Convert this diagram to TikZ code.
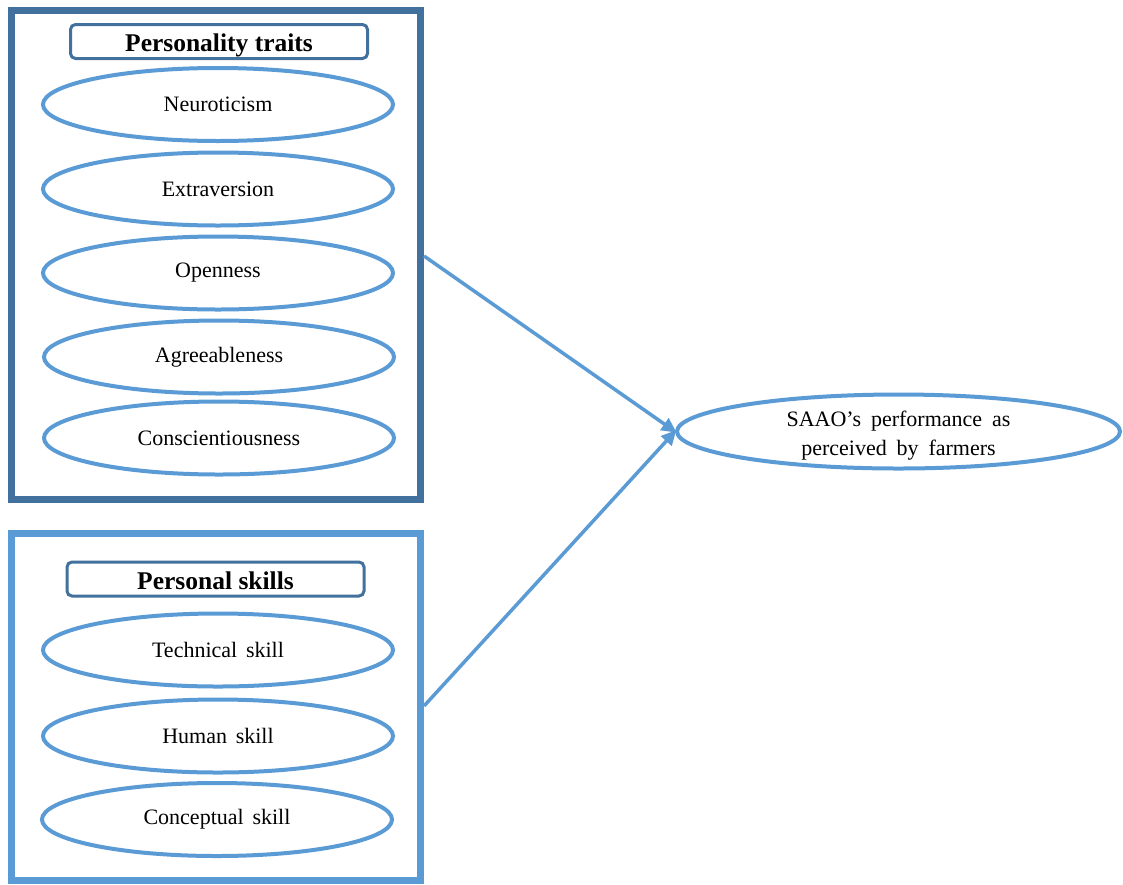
\documentclass[tikz,border=0pt]{standalone}
\usepackage{fontspec}
\setmainfont{Liberation Serif}
\usetikzlibrary{arrows.meta,shapes.geometric}
\definecolor{darkblue}{HTML}{41719C}
\definecolor{lightblue}{HTML}{5B9BD5}
\tikzset{
  outerbox/.style={line width=7pt},
  titlebox/.style={draw=darkblue, line width=3pt, rounded corners=5pt, minimum width=297pt, minimum height=34pt, inner sep=0pt, text height=21pt, text depth=1pt, font=\fontsize{25.5}{28}\selectfont\bfseries},
  oval/.style={ellipse, draw=lightblue, line width=4pt, minimum width=350pt, minimum height=73pt, inner sep=0pt, font=\fontsize{22}{25}\selectfont},
  conn/.style={draw=lightblue, line width=3.5pt, -{Triangle[length=15pt,width=14pt]}, shorten >=-2pt}
}
\begin{document}
\begin{tikzpicture}[x=1pt,y=-1pt]
\useasboundingbox (0,0) rectangle (1123,884);
\fill[white] (0,0) rectangle (1123,884);
% outer boxes
\draw[outerbox, draw=darkblue] (11.5,10.5) rectangle (420.5,499);
\draw[outerbox, draw=lightblue] (11.5,533) rectangle (420.5,880);
% titles
\node[titlebox] (pt) at (219,41.5) {Personality traits};
\node[titlebox] (ps) at (215.5,579) {Personal skills};
% ellipses
\node[oval] (neu) at (218,104.5) {Neuroticism};
\node[oval] (ext) at (218,189) {Extraversion};
\node[oval] (ope) at (218,273) {Openness};
\node[oval] (agr) at (219,357) {Agreeableness};
\node[oval] (con) at (219,438) {Conscientiousness};
\node[oval] (tec) at (218,650) {Technical\hspace{0.4em}skill};
\node[oval] (hum) at (218,736) {Human\hspace{0.4em}skill};
\node[oval] (cpt) at (217,819.5) {Conceptual\hspace{0.4em}skill};
% outcome
\node[ellipse, draw=lightblue, line width=4pt, minimum width=443pt, minimum height=74pt, inner sep=0pt,
  label={[align=center, font=\fontsize{22}{29}\selectfont, yshift=-4pt]center:SAAO’s\hspace{0.45em}performance\hspace{0.45em}as\\perceived\hspace{0.45em}by\hspace{0.45em}farmers}] (saao) at (898.5,431.5) {};
% connectors
\coordinate (a1) at (424,256);
\coordinate (a2) at (424,706);
\draw[conn] (a1) -- (saao.west);
\draw[conn] (a2) -- (saao.west);
\end{tikzpicture}
\end{document}
